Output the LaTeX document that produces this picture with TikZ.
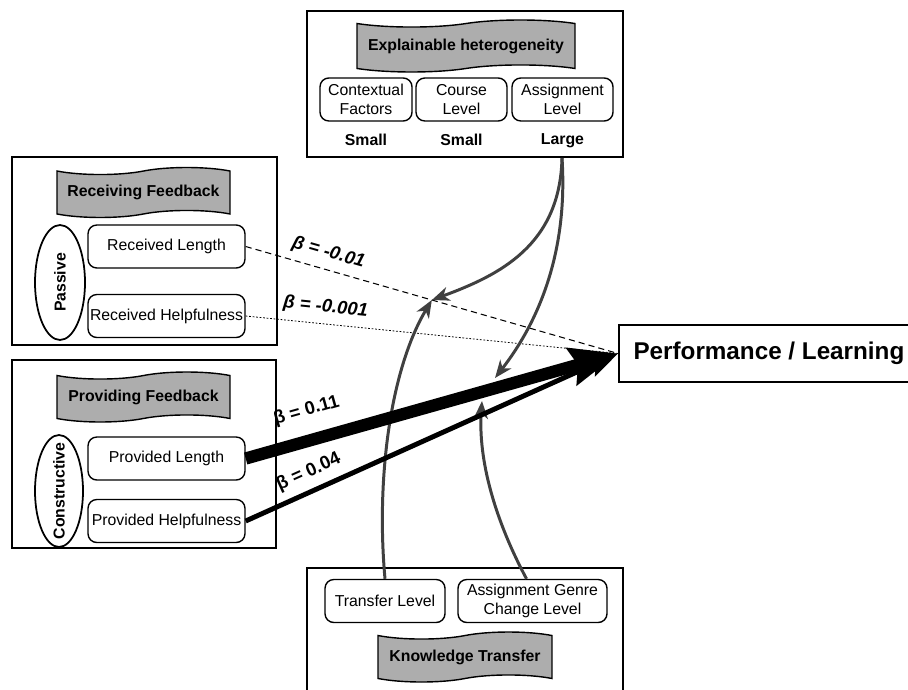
\documentclass[tikz,border=0pt]{standalone}
\usepackage{fontspec}
\setmainfont{Liberation Sans}
\usetikzlibrary{shapes.geometric,shapes.symbols,arrows.meta,positioning,calc}

\tikzset{
  panel/.style={draw, line width=1.1pt},
  banner/.style={tape, draw, fill=black!32, line width=0.8pt, tape bend height=4pt,
    font=\fontsize{9}{10}\selectfont\bfseries, inner sep=0pt},
  varbox/.style={draw, rounded corners=5pt, line width=0.8pt, align=center,
    font=\fontsize{9}{10.5}\selectfont, minimum height=0.86cm, inner sep=1pt},
  modebox/.style={ellipse, draw, line width=1pt, inner sep=0pt},
  modetext/.style={rotate=90, font=\fontsize{9}{10}\selectfont\bfseries},
  sizelabel/.style={font=\fontsize{9}{10}\selectfont\bfseries},
  coef/.style={sloped, font=\fontsize{10.5}{12}\selectfont\bfseries},
  coefit/.style={coef, font=\fontsize{10.5}{12}\selectfont\bfseries\itshape},
  moder/.style={draw=black!75, line width=1.7pt, -{Stealth[length=10pt,width=8pt,inset=3pt]}},
}

\begin{document}
\begin{tikzpicture}[x=0.02cm,y=-0.02cm]
    \useasboundingbox (0,0) rectangle (908,689);

    % Explainable heterogeneity
    \draw [panel] (307,11) rectangle (623,157);
    \node [banner, minimum width=4.36cm, minimum height=1.04cm] (het) at (466,46) {Explainable heterogeneity};
    \node [varbox, minimum width=1.84cm] (ctx) at (366,99.5) {Contextual\\Factors};
    \node [varbox, minimum width=1.82cm] (course) at (461.5,99.5) {Course\\Level};
    \node [varbox, minimum width=2.02cm] (asg) at (562.5,99.5) {Assignment\\Level};
    \node [sizelabel, below=0.12cm of ctx] (ctxsize) {Small};
    \node [sizelabel, below=0.12cm of course] (coursesize) {Small};
    \node [sizelabel, below=0.12cm of asg] (asgsize) {Large};
    \coordinate (hetsrc) at (562,158);

    % Receiving feedback
    \draw [panel] (12,157) rectangle (277,345);
    \node [banner, minimum width=3.46cm, minimum height=1cm] (recv) at (143.5,192.5) {Receiving Feedback};
    \node [modebox, minimum width=1cm, minimum height=2.3cm] (passive) at (60,282.5) {};
    \node [modetext] (passivetxt) at (passive) {Passive};
    \node [varbox, minimum width=3.14cm] (rlen) at (166.5,246.5) {Received Length};
    \node [varbox, minimum width=3.14cm] (rhelp) at (166.5,316) {Received Helpfulness};

    % Providing feedback
    \draw [panel] (12,360) rectangle (276,548);
    \node [banner, minimum width=3.46cm, minimum height=1cm] (prov) at (143.5,397) {Providing Feedback};
    \node [modebox, minimum width=0.96cm, minimum height=2.24cm] (constr) at (59,491) {};
    \node [modetext] (constrtxt) at (constr) {Constructive};
    \node [varbox, minimum width=3.14cm] (plen) at (166.5,458.5) {Provided Length};
    \node [varbox, minimum width=3.14cm] (phelp) at (166.5,521) {Provided Helpfulness};

    % Knowledge transfer
    \draw [panel] (307,568) rectangle (623,694);
    \node [varbox, minimum width=2.4cm] (tlev) at (385,601) {Transfer Level};
    \node [varbox, minimum width=2.98cm] (genre) at (532.5,601) {Assignment Genre\\Change Level};
    \node [banner, minimum width=3.48cm, minimum height=1cm] (know) at (465,657) {Knowledge Transfer};
    \coordinate (genresrc) at ($(genre.north)+(-6,0)$);

    % Outcome
    \node [draw, line width=1.1pt, anchor=west, minimum width=6cm, minimum height=1.14cm,
      font=\fontsize{13.8}{16}\selectfont\bfseries] (perf) at (618,353.5) {Performance / Learning};

    % Paths to the outcome
    \draw [dash pattern=on 3.5pt off 2.3pt, line width=0.6pt] (rlen.east)
      -- node [coefit, pos=0.21, above=1pt] (brlen) {β = -0.01}
         coordinate [pos=0.5] (lenmid) (perf.west);
    \draw [dash pattern=on 1pt off 1pt, line width=0.45pt] (rhelp.east)
      -- node [coefit, pos=0.21, above=1pt] (brhelp) {β = -0.001} (perf.west);

    % Moderators
    \coordinate (hetlen) at (495,378);
    \coordinate (genlen) at (482,401);
    \draw [moder] (hetsrc) .. controls (560,245) and (500,275) .. (lenmid);
    \draw [moder] (hetsrc) .. controls (568,250) and (540,320) .. (hetlen);
    \draw [moder] (tlev.north) .. controls (376,480) and (390,370) .. (lenmid);
    \draw [moder] (genresrc) .. controls (495,520) and (478,460) .. (genlen);

    \draw [line width=7pt, -{Stealth[length=0.95cm,width=0.75cm,inset=0.12cm]}] (plen.east)
      -- node [coef, pos=0.185, above=5pt] (bplen) {β = 0.11} (perf.west);
    \draw [line width=2.8pt, -{Stealth[length=0.6cm,width=0.45cm,inset=0.1cm]}] (phelp.east)
      -- node [coef, pos=0.19, above=1pt] (bphelp) {β = 0.04} (perf.west);
  \end{tikzpicture}
\end{document}
